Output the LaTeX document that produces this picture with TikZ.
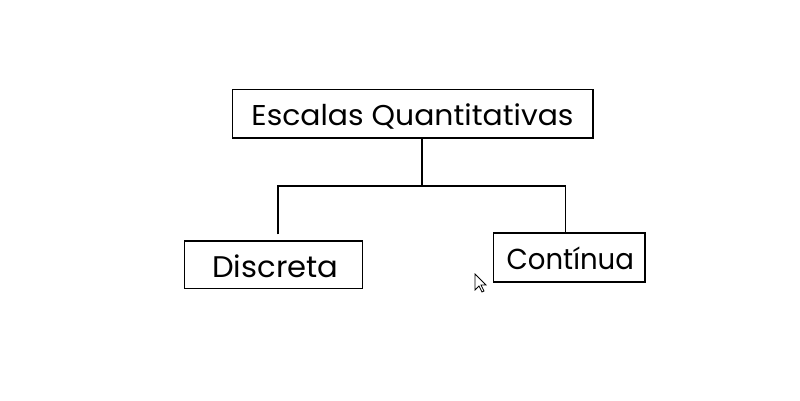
\documentclass[tikz,border=0pt]{standalone}
\usepackage{fontspec}
\setmainfont{Poppins}
\begin{document}
\begin{tikzpicture}[x=1pt,y=-1pt,
  box/.style={draw=black,line width=1.6pt,rectangle,inner sep=0pt,fill=white},
  lbl/.style={inner sep=0pt,anchor=base},
  conn/.style={draw=black,line width=1.6pt}]
\useasboundingbox[fill=white] (0,0) rectangle (800,400);
% boxes
\node[box,minimum width=360.5pt,minimum height=48.4pt] (top) at (412.75,113.5) {};
\node[box,minimum width=178pt,minimum height=47.3pt] (left) at (273.5,264.7) {};
\node[box,minimum width=151.5pt,minimum height=48.7pt] (right) at (569.25,257.6) {};
% labels
\node[lbl] (ttop) at (412.5,125) {\resizebox{322pt}{21.8pt}{Escalas Quantitativas}};
\node[lbl] (tleft) at (275.3,277.7) {\resizebox{126pt}{22.7pt}{Discreta}};
\node[lbl] (tright) at (570.3,269.3) {\resizebox{127.3pt}{22.6pt}{Contínua}};
% connectors
\coordinate (j) at (421.7,186);
\coordinate (l) at (277.7,186);
\coordinate (r) at (565.5,186);
\coordinate (le) at (277.7,234.3);
\draw[conn] (top.south -| j) -- (j);
\draw[conn] (le) -- (l) -- (r) -- (right.north -| r);
% mouse cursor
\draw[black,line width=0.8pt,fill=white,line join=miter]
  (475,274) -- (475,290) -- (479,286) -- (482,292) -- (484,291) -- (481,285) -- (486,285) -- cycle;
\end{tikzpicture}
\end{document}
